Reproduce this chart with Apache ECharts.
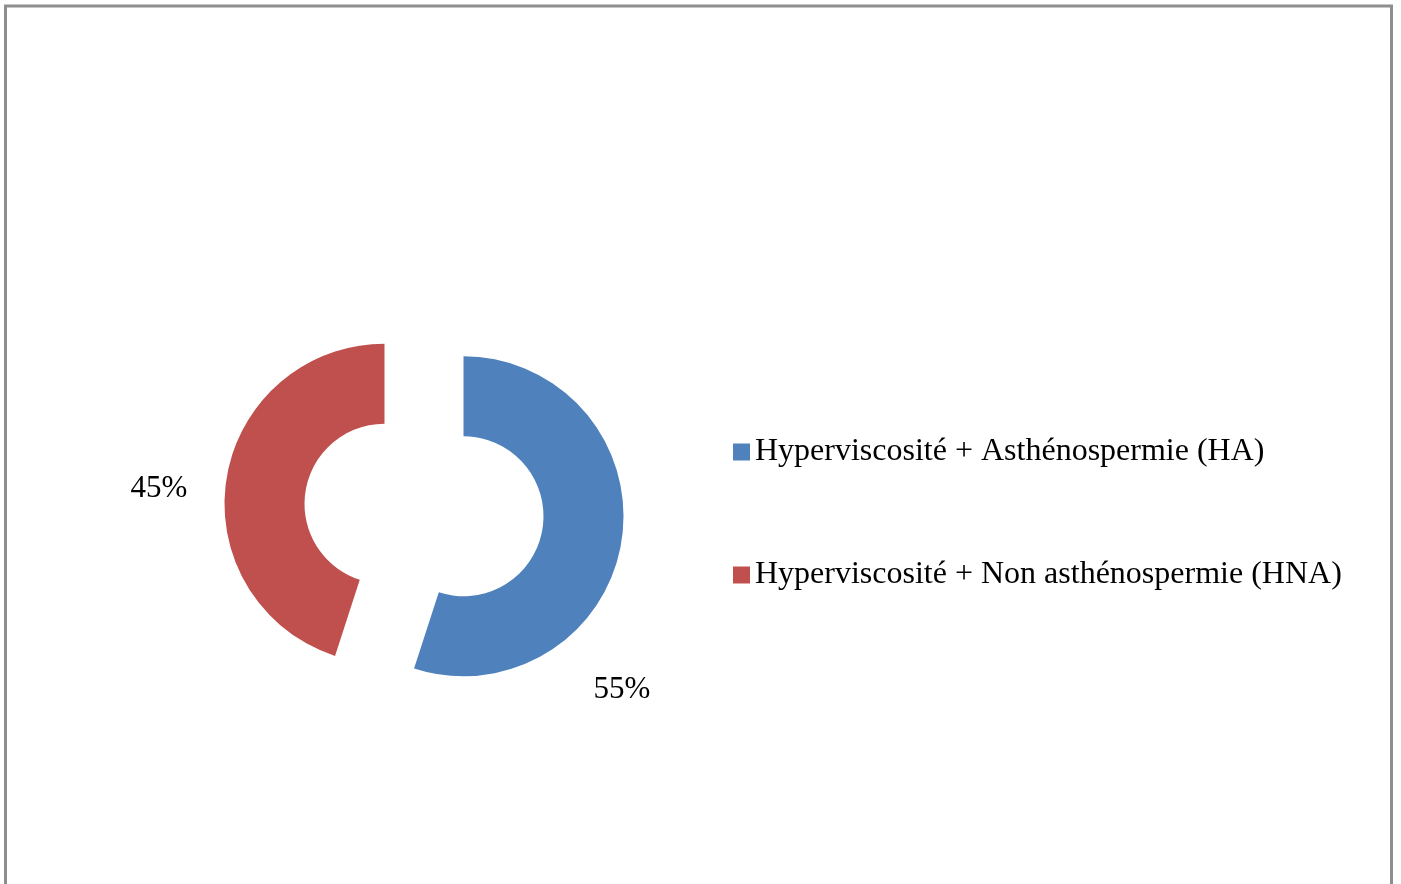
<!DOCTYPE html>
<html>
<head>
<meta charset="utf-8">
<script src="https://cdn.jsdelivr.net/npm/echarts@6/dist/echarts.min.js"></script>
<style>
html,body{margin:0;padding:0;background:#fff;}
#chart{width:1401px;height:884px;}
</style>
</head>
<body>
<div id="chart"></div>
<script>
var categories = ['Hyperviscosité + Asthénospermie (HA)', 'Hyperviscosité + Non asthénospermie (HNA)'];
var values = [55, 45];
var colors = ['#4F81BD', '#C0504D'];

var chart = echarts.init(document.getElementById('chart'));
var FONT = 'Liberation Serif, Times New Roman, serif';
var CX = 424, CY = 510, EXPLODE = 40;
// label offsets relative to pie center (Excel best-fit placement)
var labelOffsets = [[198, 180], [-265, -21]];

var total = values.reduce(function (a, b) { return a + b; }, 0);
var series = [];
var cum = 0;
values.forEach(function (v, i) {
  var mid = (cum + v / 2) / total * 2 * Math.PI;
  cum += v;
  var cx = CX + EXPLODE * Math.sin(mid);
  var cy = CY - EXPLODE * Math.cos(mid);
  series.push({
    type: 'pie',
    center: [cx, cy],
    radius: [80, 160],
    startAngle: 90,
    clockwise: true,
    silent: true,
    emphasis: {disabled: true},
    label: {
      show: true,
      position: 'outside',
      formatter: '{c}%',
      fontFamily: FONT,
      fontSize: 31,
      color: '#000'
    },
    labelLine: {show: false},
    labelLayout: (function (idx) {
      return function (params) {
        if (params.dataIndex !== idx) return {};
        var o = labelOffsets[idx];
        return {x: CX + o[0], y: CY + o[1], align: 'center', verticalAlign: 'middle'};
      };
    })(i),
    data: categories.map(function (c, j) {
      var own = j === i;
      return {
        name: c,
        value: values[j],
        itemStyle: {color: own ? colors[j] : 'rgba(0,0,0,0)'},
        label: {show: own}
      };
    })
  });
});

var option = {
  animation: false,
  graphic: [{
    type: 'rect',
    shape: {x: 5.5, y: 6, width: 1386, height: 1000},
    style: {fill: 'none', stroke: '#8e8e8e', lineWidth: 3},
    silent: true
  }],
  legend: {
    orient: 'vertical',
    left: 733,
    top: 434,
    padding: 0,
    itemWidth: 17,
    itemHeight: 17,
    itemGap: 87,
    icon: 'rect',
    selectedMode: false,
    textStyle: {fontFamily: FONT, fontSize: 32, color: '#000', lineHeight: 36},
    data: categories.map(function (c, i) {
      return {name: c, itemStyle: {color: colors[i]}};
    })
  },
  series: series
};
chart.setOption(option);
</script>
</body>
</html>
